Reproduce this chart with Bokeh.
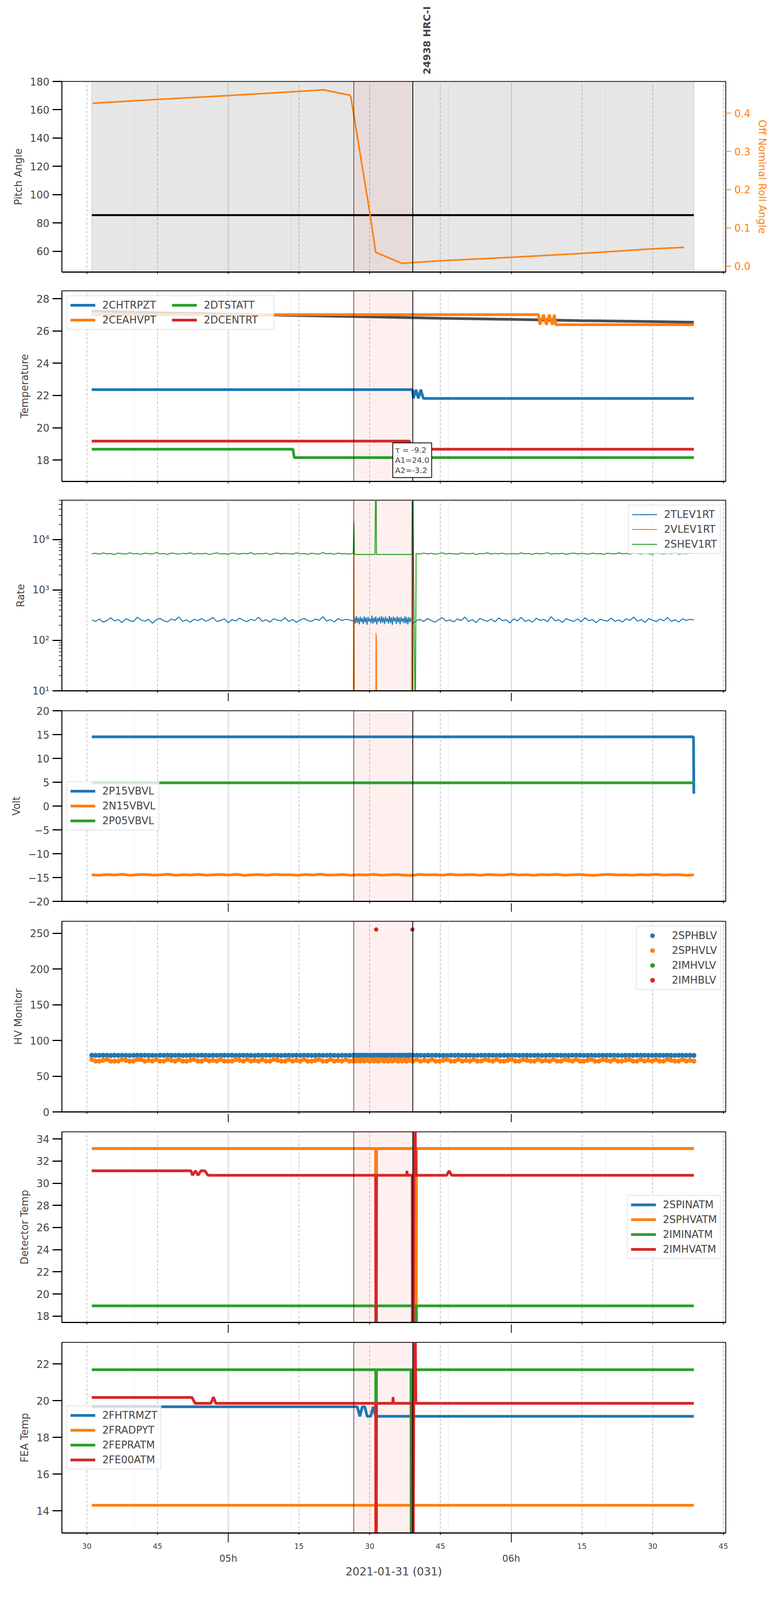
import math
import pandas as pd
from bokeh.plotting import figure
from bokeh.layouts import column
from bokeh.models import (Range1d, LinearAxis, FixedTicker, BoxAnnotation, Span,
                          Label, Legend, LegendItem, Grid)
from bokeh.embed import file_html
from bokeh.resources import INLINE

DAY = "2021-01-31 "
FONT = "DejaVu Sans"
BLUE, ORANGE, GREEN, RED = "#1f77b4", "#ff7f0e", "#2ca02c", "#d62728"
FRAME_W, FRAME_H = 1700, 488

# ---- time axis
X_START, X_END = "04:24:43", "06:45:30"
QUARTER_TICKS = ["04:30", "04:45", "05:15", "05:30", "05:45", "06:15", "06:30", "06:45"]
QUARTER_LABELS = ["30", "45", "15", "30", "45", "15", "30", "45"]
HOUR_TICKS = ["05:00", "06:00"]
HOUR_LABELS = ["05h", "06h"]
X_LABEL = "2021-01-31 (031)"

OBS_NAME = "24938 HRC-I"
OBS_START, OBS_END = "05:26:37", "05:39:08"
DATA_START, DATA_END = "04:31:03", "06:38:44"

# ---- panel 1: pitch / roll
PITCH_TICKS = [60, 80, 100, 120, 140, 160, 180]
PITCH_LABELS = ["60", "80", "100", "120", "140", "160", "180"]
ROLL_TICKS = [0.0, 0.1, 0.2, 0.3, 0.4]
ROLL_LABELS = ["0.0", "0.1", "0.2", "0.3", "0.4"]
PITCH_T = ["04:31:03", "06:38:44"]
PITCH = [85.5, 85.5]
ROLL_T = ["04:31:16", "04:45:00", "05:00:00", "05:15:00", "05:20:12", "05:25:47", "05:26:00",
          "05:30:00", "05:31:16", "05:36:50", "05:45:00", "06:00:00", "06:15:00", "06:30:00", "06:36:38"]
ROLL = [0.426, 0.436, 0.446, 0.457, 0.461, 0.447, 0.442, 0.141, 0.036, 0.007,
        0.014, 0.023, 0.033, 0.045, 0.049]

# ---- panel 2: temperature
TEMP_TICKS = [18, 20, 22, 24, 26, 28]
TEMP_LABELS = ["18", "20", "22", "24", "26", "28"]
FIT_T = ["04:31:03", "04:45:00", "05:00:00", "05:15:00", "05:30:00", "05:45:00", "06:00:00",
         "06:15:00", "06:30:00", "06:38:44"]
FIT = [27.23, 27.13, 27.05, 26.96, 26.88, 26.79, 26.72, 26.64, 26.58, 26.54]
FIT_TEXT = "τ = -9.2\nA1=24.0\nA2=-3.2"
FIT_X = "05:34:13"
CHTRPZT_T = ["04:31:03", "05:39:03", "05:39:16", "05:39:47", "05:40:19", "05:40:50", "05:41:22", "06:38:44"]
CHTRPZT = [22.36, 22.36, 21.82, 22.36, 21.82, 22.36, 21.82, 21.82]
CEAHVPT_T = ["04:31:03", "06:05:47", "06:06:06", "06:06:51", "06:07:28", "06:08:06", "06:08:44",
             "06:09:09", "06:09:28", "06:38:44"]
CEAHVPT = [27.01, 27.01, 26.39, 27.01, 26.39, 27.01, 26.39, 27.01, 26.39, 26.39]
DTSTATT_T = ["04:31:03", "05:13:42", "05:14:00", "06:38:44"]
DTSTATT = [18.67, 18.67, 18.15, 18.15]
DCENTRT_T = ["04:31:03", "05:38:25", "05:38:50", "06:38:44"]
DCENTRT = [19.17, 19.17, 18.67, 18.67]

# ---- panel 3: rates (three sampling segments)
SEG_A = ("04:31:03", "05:26:30")
SEG_B = ("05:26:45", "05:38:55")
SEG_C = ("05:39:50", "06:38:44")
RATE_TICKS = [10, 100, 1000, 10000]
RATE_LABELS = ["10¹", "10²", "10³", "10⁴"]
RATE_MINOR = [20, 30, 40, 50, 60, 70, 80, 90, 200, 300, 400, 500, 600, 700, 800, 900,
              2000, 3000, 4000, 5000, 6000, 7000, 8000, 9000, 20000, 30000, 40000, 50000, 60000]
TLEV_A = [252, 238, 265, 231, 247, 281, 243, 259, 226, 270, 248, 236, 288, 254, 241, 262, 219, 257,
          274, 245, 233, 266, 250, 291, 238, 256, 229, 263, 247, 272, 240, 255, 284, 236, 249, 268,
          224, 258, 243, 277, 251, 235, 262, 246, 289, 239, 257, 231, 269, 252, 244, 281, 237, 260,
          228, 254, 273, 246, 239, 265, 250, 296, 241, 258, 233, 270, 248, 262, 255, 243]
TLEV_B = [290, 215, 305, 222, 284, 208, 296, 231, 277, 212, 301, 226, 288, 204, 293, 238, 271, 219,
          309, 214, 283, 229, 298, 207, 279, 236, 292, 218, 303, 224, 286, 211, 297, 233, 274, 216,
          306, 221, 289, 203, 295, 239, 281, 213, 300, 227, 285, 209, 294, 234, 276, 220, 302, 217,
          287, 206, 291, 230, 280, 212]
TLEV_C = [244, 262, 237, 271, 250, 229, 258, 283, 241, 255, 232, 267, 248, 290, 236, 259, 226, 273,
          252, 240, 264, 233, 279, 247, 256, 221, 268, 243, 287, 238, 254, 230, 275, 249, 261, 235,
          296, 245, 257, 228, 270, 251, 239, 266, 234, 282, 246, 258, 224, 263, 250, 241, 276, 237,
          255, 232, 269, 248, 292, 240, 260, 227, 272, 253, 236, 265, 244, 284, 238, 257, 231, 268,
          249, 262, 255]
VLEV_T = ["04:31:03", "05:26:30", "05:26:38", "05:26:45", "05:31:15", "05:31:20", "05:31:25",
          "05:31:30", "05:38:50", "05:38:55", "05:39:00", "06:38:44"]
VLEV = [1, 1, 23000, 1, 1, 140, 110, 1, 1, 5000, 1, 1]
SHEV_A = [5210, 5350, 5120, 5420, 5180, 5290, 5050, 5380, 5240, 5150, 5460, 5200, 5310, 5090, 5370,
          5230, 5160, 5520, 5190, 5280, 5070, 5400, 5250, 5130, 5340, 5210, 5470, 5110, 5300, 5190,
          5360, 5040, 5270, 5420, 5180, 5230, 5100, 5390, 5260, 5150, 5330, 5220, 5480, 5120, 5290,
          5200, 5370, 5060, 5250, 5410, 5170, 5310, 5230, 5140, 5440, 5200, 5280, 5090, 5350, 5240,
          5160, 5500, 5190, 5300, 5110, 5380, 5220, 5270, 5150, 5330]
SHEV_B = [5060, 5090, 5030, 5080, 5050, 5100, 5040, 5070, 5020, 5090, 5060, 5030, 5080, 5050, 5110,
          5040, 5070, 5060, 5020, 5090, 5050, 5080, 5030, 5100, 5060, 5040, 5070, 5090, 5030, 5060,
          5080, 5050, 5100, 5040, 5070, 5020, 5090, 5060, 5030, 5080]
SHEV_C = [5280, 5150, 5390, 5200, 5330, 5090, 5260, 5440, 5170, 5310, 5220, 5120, 5400, 5250, 5180,
          5350, 5060, 5290, 5230, 5470, 5140, 5320, 5200, 5380, 5110, 5270, 5240, 5160, 5430, 5210,
          5300, 5080, 5360, 5190, 5250, 5490, 5130, 5280, 5220, 5340, 5100, 5260, 5410, 5170, 5300,
          5230, 5150, 5370, 5200, 5290, 5070, 5350, 5240, 5180, 5450, 5210, 5310, 5130, 5390, 5250,
          5160, 5330, 5220, 5100, 5420, 5270, 5190, 5340, 5230, 5460, 5150, 5300, 5210, 5370, 5260]
SHEV_SPIKE_T = ["05:26:38", "05:31:20", "05:39:03", "05:39:40"]
SHEV_SPIKE = [20300, 1000000, 1000000, 1]

# ---- panel 4: voltages
VOLT_TICKS = [-20, -15, -10, -5, 0, 5, 10, 15, 20]
VOLT_LABELS = ["−20", "−15", "−10", "−5", "0", "5", "10", "15", "20"]
P15_T = ["04:31:03", "06:38:40", "06:38:44"]
P15 = [14.52, 14.52, 2.6]
P05_T = ["04:31:03", "06:38:44"]
P05 = [4.88, 4.88]
N15 = [-14.42, -14.50, -14.38, -14.47, -14.33, -14.52, -14.41, -14.36, -14.49, -14.44, -14.31, -14.53,
       -14.40, -14.46, -14.35, -14.51, -14.43, -14.37, -14.48, -14.32, -14.55, -14.42, -14.39, -14.50,
       -14.34, -14.45, -14.41, -14.53, -14.36, -14.47, -14.30, -14.49, -14.44, -14.38, -14.52, -14.40,
       -14.46, -14.33, -14.51, -14.42, -14.37, -14.48, -14.55, -14.35, -14.45, -14.41, -14.50, -14.32,
       -14.47, -14.43, -14.39, -14.53, -14.36, -14.44, -14.49, -14.31, -14.46, -14.40, -14.52, -14.38,
       -14.45, -14.34, -14.50, -14.42, -14.37, -14.48, -14.54, -14.41, -14.35, -14.47, -14.43, -14.51,
       -14.39, -14.46, -14.33, -14.49, -14.42, -14.38, -14.52, -14.44]

# ---- panel 5: HV monitor (scatter)
HV_A = ("04:31:03", "05:26:30")
HV_B = ("05:26:38", "05:39:03")
HV_C = ("05:39:10", "06:38:44")
HV_TICKS = [0, 50, 100, 150, 200, 250]
HV_LABELS = ["0", "50", "100", "150", "200", "250"]
SPHBLV_A = [79.2, 79.1, 79.1, 79.3, 79.1, 79.0, 79.2, 79.1, 79.2, 79.1, 79.0, 79.1, 79.3, 79.1, 79.2,
            79.1, 79.1, 79.0, 79.2, 79.1, 79.3, 79.1, 79.1, 79.2, 79.0, 79.1, 79.2, 79.1, 79.1, 79.3,
            79.1, 79.0, 79.2, 79.1, 79.1, 79.2, 79.1, 79.3, 79.0, 79.1, 79.2, 79.1, 79.1, 79.0, 79.2,
            79.1, 79.3, 79.1, 79.2, 79.1, 79.0, 79.1, 79.2, 79.1, 79.3, 79.1, 79.1, 79.2, 79.0, 79.1,
            79.2, 79.1, 79.1, 79.3, 79.1, 79.0, 79.2, 79.1, 79.1, 79.2]
SPHBLV_B = [79.1, 79.3, 79.0, 79.2, 79.1, 79.1, 79.3, 79.0, 79.2, 79.1, 79.2, 79.0, 79.3, 79.1, 79.1,
            79.2, 79.0, 79.3, 79.1, 79.2, 79.1, 79.0, 79.3, 79.1, 79.2, 79.1, 79.0, 79.2, 79.3, 79.1]
SPHBLV_C = [79.1, 79.2, 79.1, 79.0, 79.3, 79.1, 79.2, 79.1, 79.1, 79.0, 79.2, 79.1, 79.3, 79.1, 79.1,
            79.2, 79.0, 79.1, 79.2, 79.1, 79.3, 79.1, 79.0, 79.1, 79.2, 79.1, 79.1, 79.3, 79.0, 79.1,
            79.2, 79.1, 79.1, 79.2, 79.0, 79.1, 79.3, 79.1, 79.2, 79.1, 79.1, 79.0, 79.2, 79.1, 79.3,
            79.1, 79.1, 79.2, 79.0, 79.1, 79.2, 79.1, 79.3, 79.1, 79.1, 79.0, 79.2, 79.1, 79.1, 79.3,
            79.1, 79.2, 79.0, 79.1, 79.2, 79.1, 79.1, 79.3, 79.1, 79.0, 79.2, 79.1, 79.1, 79.2, 79.1]
SPHVLV_A = [73.4, 71.1, 71.0, 72.3, 73.5, 71.1, 71.0, 71.2, 73.4, 72.1, 71.0, 71.1, 73.5, 73.3, 71.0,
            72.2, 71.1, 73.4, 71.0, 71.1, 73.5, 72.2, 71.0, 73.4, 71.1, 71.0, 72.3, 73.5, 71.1, 71.0,
            73.4, 71.2, 72.2, 71.0, 73.5, 71.1, 71.0, 71.1, 73.3, 72.2, 71.0, 73.5, 71.1, 72.1, 71.0,
            73.4, 71.1, 71.0, 73.5, 72.3, 71.0, 71.1, 73.4, 71.0, 72.2, 71.1, 73.5, 71.0, 71.1, 72.2,
            73.4, 71.0, 71.1, 73.5, 71.0, 72.1, 71.1, 73.4, 71.0, 71.2]
SPHVLV_B = [73.3, 71.2, 72.4, 71.1, 73.4, 71.3, 72.2, 73.3, 71.1, 72.5, 71.2, 73.4, 71.1, 72.3, 73.2,
            71.2, 72.4, 71.1, 73.3, 71.3, 72.2, 73.4, 71.1, 72.4, 71.2, 73.3, 71.1, 72.3, 73.4, 71.2]
SPHVLV_C = [71.1, 73.4, 71.0, 72.2, 71.1, 73.5, 71.0, 71.1, 72.3, 73.4, 71.0, 71.1, 73.5, 71.0, 72.2,
            71.1, 73.3, 71.0, 71.2, 73.5, 72.1, 71.0, 73.4, 71.1, 71.0, 72.2, 73.5, 71.1, 71.0, 73.4,
            72.3, 71.1, 71.0, 73.5, 71.1, 72.2, 71.0, 73.4, 71.1, 71.0, 73.5, 72.2, 71.1, 73.4, 71.0,
            71.1, 72.3, 73.5, 71.0, 71.1, 73.4, 72.1, 71.0, 73.5, 71.1, 71.0, 72.2, 73.4, 71.1, 71.0,
            73.5, 71.1, 72.2, 71.0, 73.4, 71.1, 71.0, 73.5, 72.3, 71.1, 71.0, 73.4, 71.1, 72.2, 71.0]
IMHVLV_T = ["05:31:22", "05:39:03"]
IMHVLV = [255.2, 255.2]
IMHBLV_T = ["05:31:22", "05:39:03"]
IMHBLV = [255.2, 255.2]

# ---- panel 6: detector temperatures
DET_TICKS = [18, 20, 22, 24, 26, 28, 30, 32, 34]
DET_LABELS = ["18", "20", "22", "24", "26", "28", "30", "32", "34"]
SPINATM_T = ["04:31:03", "05:31:16", "05:31:20", "05:31:26", "05:39:40", "05:39:47", "05:39:54", "06:38:44"]
SPINATM = [33.13, 33.13, 0, 33.13, 33.13, 0, 33.13, 33.13]
SPHVATM_T = ["04:31:03", "05:31:16", "05:31:20", "05:31:26", "05:39:40", "05:39:47", "05:39:54", "06:38:44"]
SPHVATM = [33.13, 33.13, 0, 33.13, 33.13, 0, 33.13, 33.13]
IMINATM_T = ["04:31:03", "05:31:16", "05:31:20", "05:31:26", "05:39:40", "05:39:47", "05:39:54", "06:38:44"]
IMINATM = [18.93, 18.93, 0, 18.93, 18.93, 0, 18.93, 18.93]
IMHVATM_T = ["04:31:03", "04:52:06", "04:52:25", "04:53:03", "04:53:35", "04:54:13", "04:55:03",
             "04:55:41", "05:31:16", "05:31:20", "05:31:26", "05:37:50", "05:37:54", "05:37:58",
             "05:39:00", "05:39:05", "05:39:28", "05:39:47", "05:46:19", "05:46:50", "05:47:22", "06:38:44"]
IMHVATM = [31.12, 31.12, 30.72, 31.12, 30.72, 31.12, 31.12, 30.72, 30.72, 0, 30.72, 30.72, 31.12,
           30.72, 30.72, 0, 40, 30.72, 30.72, 31.12, 30.72, 30.72]

# ---- panel 7: FEA temperatures
FEA_TICKS = [14, 16, 18, 20, 22]
FEA_LABELS = ["14", "16", "18", "20", "22"]
FHTRMZT_T = ["04:31:03", "05:27:22", "05:27:54", "05:28:25", "05:28:57", "05:29:28", "05:30:12",
             "05:30:44", "05:31:16", "06:38:44"]
FHTRMZT = [19.67, 19.67, 19.15, 19.67, 19.67, 19.15, 19.15, 19.67, 19.15, 19.15]
FRADPYT_T = ["04:31:03", "05:31:16", "05:31:20", "05:31:26", "05:38:56", "05:39:00", "05:39:05", "06:38:44"]
FRADPYT = [14.3, 14.3, 0, 14.3, 14.3, 0, 14.3, 14.3]
FEPRATM_T = ["04:31:03", "05:31:16", "05:31:20", "05:31:26", "05:38:45", "05:38:50", "05:38:55", "06:38:44"]
FEPRATM = [21.69, 21.69, 0, 21.69, 21.69, 0, 21.69, 21.69]
FE00ATM_T = ["04:31:03", "04:52:19", "04:52:57", "04:56:19", "04:56:51", "04:57:22", "05:31:16",
             "05:31:20", "05:31:26", "05:34:52", "05:34:57", "05:35:02", "05:39:00", "05:39:05",
             "05:39:28", "05:39:47", "06:38:44"]
FE00ATM = [20.18, 20.18, 19.86, 19.86, 20.2, 19.86, 19.86, 0, 19.86, 19.86, 20.2, 19.86, 19.86,
           0, 30, 19.86, 19.86]


def ts(times):
    return pd.to_datetime([DAY + s for s in times])


def ms(s):
    return int(pd.Timestamp(DAY + s).value // 10**6)


def sampled(seg, values):
    # evenly spaced telemetry samples inside a time segment
    return pd.date_range(DAY + seg[0], DAY + seg[1], periods=len(values))


XR = Range1d(ms(X_START), ms(X_END))
Q_MS = [ms(s) for s in QUARTER_TICKS]
H_MS = [ms(s) for s in HOUR_TICKS]


def style_text_axis(ax, size="26px"):
    ax.axis_label_text_font = FONT
    ax.axis_label_text_font_size = size
    ax.axis_label_text_font_style = "normal"
    ax.major_label_text_font = FONT
    ax.major_label_text_font_size = size


def tick_only_axis(ticks, length, line=True):
    # an x axis that draws only tick marks, without any labels
    ax = LinearAxis(ticker=FixedTicker(ticks=[], minor_ticks=ticks))
    ax.major_tick_out = 0
    ax.major_tick_in = 0
    ax.major_label_standoff = 0
    ax.minor_tick_out, ax.minor_tick_in = length, 0
    ax.minor_tick_line_width = 2
    ax.minor_tick_line_color = "black"
    ax.axis_line_width = 3
    if not line:
        ax.axis_line_color = None
    return ax


def make_panel(ylabel, yr, yticks, ylabels, yminor=(), log=False, top=24, bottom=24,
               hour_tick=22, last=False):
    p = figure(x_range=XR, y_range=Range1d(*yr), x_axis_location=None,
               y_axis_type="log" if log else "linear",
               frame_width=FRAME_W, frame_height=FRAME_H,
               min_border_left=158, min_border_right=120,
               min_border_top=top, min_border_bottom=bottom,
               output_backend="svg", toolbar_location=None)
    p.outline_line_color = "black"
    p.outline_line_width = 2
    p.ygrid.visible = False
    p.add_layout(Grid(dimension=0, ticker=FixedTicker(ticks=Q_MS), grid_line_color="#b0b0b0",
                      grid_line_dash="7 4", grid_line_width=1.5))
    p.add_layout(Grid(dimension=0, ticker=FixedTicker(ticks=H_MS),
                      grid_line_color="#b0b0b0", grid_line_width=1.2))

    ya = p.yaxis[0]
    ya.ticker = FixedTicker(ticks=yticks, minor_ticks=list(yminor))
    ya.major_label_overrides = dict(zip(yticks, ylabels))
    ya.axis_label = ylabel
    style_text_axis(ya)
    ya.axis_label_standoff = 12
    ya.major_label_standoff = 8
    ya.major_tick_out, ya.major_tick_in = 24, 0
    ya.major_tick_line_width = 3
    ya.minor_tick_out, ya.minor_tick_in = 8, 0
    ya.minor_tick_line_width = 1.5
    ya.axis_line_width = 2

    if not last:
        if hour_tick > 6:
            p.add_layout(tick_only_axis(Q_MS, 5), "below")
            p.add_layout(tick_only_axis(H_MS, hour_tick, line=False), "below")
        else:
            p.add_layout(tick_only_axis(Q_MS + H_MS, 5), "below")

    p.add_layout(BoxAnnotation(left=ms(OBS_START), right=ms(OBS_END), fill_color="red",
                               fill_alpha=0.06, line_color=None, level="underlay"))
    p.add_layout(Span(location=ms(OBS_START), dimension="height", line_color="black", line_width=1.2))
    p.add_layout(Span(location=ms(OBS_END), dimension="height", line_color="black", line_width=2))
    return p


def add_legend(p, names, rends, location, nrows="auto", label_width=20):
    leg = Legend(items=[LegendItem(label=n, renderers=[r]) for n, r in zip(names, rends)],
                 location=location, nrows=nrows)
    leg.label_text_font = FONT
    leg.label_text_font_size = "26px"
    leg.label_height = 28
    leg.label_width = label_width
    leg.glyph_width = 64
    leg.glyph_height = 28
    leg.label_standoff = 18
    leg.spacing = 8
    leg.padding = 8
    leg.margin = 12
    leg.border_line_color = "#cccccc"
    leg.border_line_width = 2.5
    leg.background_fill_alpha = 0.8
    p.add_layout(leg)


# ---- panel 1
p1 = make_panel("Pitch Angle", (45.3, 180), PITCH_TICKS, PITCH_LABELS, top=208, hour_tick=5)
p1.add_layout(BoxAnnotation(left=ms(DATA_START), right=ms(DATA_END), fill_color="gray",
                            fill_alpha=0.2, line_color="gray", line_alpha=0.25, line_width=2,
                            level="underlay"))
p1.extra_y_ranges = {"roll": Range1d(-0.0157, 0.483)}
rax = LinearAxis(y_range_name="roll", ticker=FixedTicker(ticks=ROLL_TICKS),
                 major_label_overrides=dict(zip(ROLL_TICKS, ROLL_LABELS)),
                 axis_label="Off Nominal Roll Angle")
style_text_axis(rax)
rax.axis_label_text_color = ORANGE
rax.axis_label_standoff = 12
rax.major_label_text_color = ORANGE
rax.major_label_standoff = 8
rax.major_tick_line_color = ORANGE
rax.major_tick_out, rax.major_tick_in = 14, 0
rax.major_tick_line_width = 2
rax.minor_tick_line_color = None
p1.add_layout(rax, "right")

# observation name, written rotated just right of the observation end line
title_x = ms(OBS_END) + 180000
tax = LinearAxis(ticker=FixedTicker(ticks=[title_x], minor_ticks=[]),
                 major_label_overrides={title_x: OBS_NAME},
                 major_label_orientation=math.pi / 2)
tax.axis_line_color = None
tax.major_tick_line_color = None
tax.minor_tick_line_color = None
tax.major_label_standoff = 12
tax.major_label_text_font = FONT
tax.major_label_text_font_size = "25px"
tax.major_label_text_font_style = "bold"
p1.add_layout(tax, "above")

p1.line(ts(PITCH_T), PITCH, color="black", line_width=5)
p1.line(ts(ROLL_T), ROLL, color=ORANGE, line_width=4, y_range_name="roll")

# ---- panel 2
p2 = make_panel("Temperature", (16.67, 28.49), TEMP_TICKS, TEMP_LABELS, hour_tick=5)
p2.line(ts(FIT_T), FIT, color="#4d4d4d", line_width=7)
r2 = [p2.line(ts(CHTRPZT_T), CHTRPZT, color=BLUE, line_width=7),
      p2.line(ts(CEAHVPT_T), CEAHVPT, color=ORANGE, line_width=7),
      p2.line(ts(DTSTATT_T), DTSTATT, color=GREEN, line_width=7),
      p2.line(ts(DCENTRT_T), DCENTRT, color=RED, line_width=7)]
add_legend(p2, ["2CHTRPZT", "2CEAHVPT", "2DTSTATT", "2DCENTRT"], r2, "top_left", nrows=2,
           label_width=170)
# fit parameters, boxed and resting on the bottom of the frame
p2.add_layout(Label(x=ms(FIT_X), y=16.67, text=FIT_TEXT, x_offset=8, y_offset=10,
                    text_align="left", text_baseline="bottom", text_font=FONT,
                    text_font_size="20px", text_line_height=1.1, padding=6,
                    background_fill_color="white", border_line_color="black",
                    border_line_width=2))

# ---- panel 3
p3 = make_panel("Rate", (10, 60300), RATE_TICKS, RATE_LABELS, yminor=RATE_MINOR, log=True)
tlev_t = sampled(SEG_A, TLEV_A).append(sampled(SEG_B, TLEV_B)).append(sampled(SEG_C, TLEV_C))
shev = pd.concat([pd.Series(SHEV_A, index=sampled(SEG_A, SHEV_A)),
                  pd.Series(SHEV_B, index=sampled(SEG_B, SHEV_B)),
                  pd.Series(SHEV_C, index=sampled(SEG_C, SHEV_C)),
                  pd.Series(SHEV_SPIKE, index=ts(SHEV_SPIKE_T))]).sort_index()
r3 = [p3.line(tlev_t, TLEV_A + TLEV_B + TLEV_C, color=BLUE, line_width=2.5),
      p3.line(ts(VLEV_T), VLEV, color=ORANGE, line_width=2.5),
      p3.line(shev.index, shev.values, color=GREEN, line_width=2.5)]
add_legend(p3, ["2TLEV1RT", "2VLEV1RT", "2SHEV1RT"], r3, "top_right")

# ---- panel 4
p4 = make_panel("Volt", (-20, 20), VOLT_TICKS, VOLT_LABELS)
r4 = [p4.line(ts(P15_T), P15, color=BLUE, line_width=7),
      p4.line(pd.date_range(DAY + DATA_START, DAY + DATA_END, periods=len(N15)), N15,
              color=ORANGE, line_width=7),
      p4.line(ts(P05_T), P05, color=GREEN, line_width=7)]
add_legend(p4, ["2P15VBVL", "2N15VBVL", "2P05VBVL"], r4, "center_left")

# ---- panel 5
p5 = make_panel("HV Monitor", (0, 266.7), HV_TICKS, HV_LABELS)
hv_t = sampled(HV_A, SPHBLV_A).append(sampled(HV_B, SPHBLV_B)).append(sampled(HV_C, SPHBLV_C))
r5 = [p5.scatter(hv_t, SPHBLV_A + SPHBLV_B + SPHBLV_C, size=12, color=BLUE),
      p5.scatter(hv_t, SPHVLV_A + SPHVLV_B + SPHVLV_C, size=12, color=ORANGE),
      p5.scatter(ts(IMHVLV_T), IMHVLV, size=10, color=GREEN),
      p5.scatter(ts(IMHBLV_T), IMHBLV, size=10, color=RED)]
add_legend(p5, ["2SPHBLV", "2SPHVLV", "2IMHVLV", "2IMHBLV"], r5, "top_right")

# ---- panel 6
p6 = make_panel("Detector Temp", (17.43, 34.64), DET_TICKS, DET_LABELS)
r6 = [p6.line(ts(SPINATM_T), SPINATM, color=BLUE, line_width=7),
      p6.line(ts(SPHVATM_T), SPHVATM, color=ORANGE, line_width=7),
      p6.line(ts(IMINATM_T), IMINATM, color=GREEN, line_width=7),
      p6.line(ts(IMHVATM_T), IMHVATM, color=RED, line_width=7)]
add_legend(p6, ["2SPINATM", "2SPHVATM", "2IMINATM", "2IMHVATM"], r6, "center_right")

# ---- panel 7 (carries the visible time axis)
p7 = make_panel("FEA Temp", (12.79, 23.18), FEA_TICKS, FEA_LABELS, bottom=40, last=True)
r7 = [p7.line(ts(FHTRMZT_T), FHTRMZT, color=BLUE, line_width=7),
      p7.line(ts(FRADPYT_T), FRADPYT, color=ORANGE, line_width=7),
      p7.line(ts(FEPRATM_T), FEPRATM, color=GREEN, line_width=7),
      p7.line(ts(FE00ATM_T), FE00ATM, color=RED, line_width=7)]
add_legend(p7, ["2FHTRMZT", "2FRADPYT", "2FEPRATM", "2FE00ATM"], r7, "center_left")

qax = LinearAxis(ticker=FixedTicker(ticks=Q_MS, minor_ticks=H_MS),
                 major_label_overrides=dict(zip(Q_MS, QUARTER_LABELS)))
qax.major_label_text_font = FONT
qax.major_label_text_font_size = "19px"
qax.major_label_standoff = 2
qax.major_tick_out, qax.major_tick_in = 5, 0
qax.minor_tick_out, qax.minor_tick_in = 24, 0
qax.major_tick_line_width = 2
qax.minor_tick_line_width = 2
qax.minor_tick_line_color = "black"
qax.axis_line_width = 3
p7.add_layout(qax, "below")

hax = LinearAxis(ticker=FixedTicker(ticks=H_MS, minor_ticks=[]),
                 major_label_overrides=dict(zip(H_MS, HOUR_LABELS)),
                 axis_label=X_LABEL)
style_text_axis(hax, "24px")
hax.axis_label_text_font_size = "28px"
hax.axis_line_color = None
hax.major_tick_line_color = None
hax.minor_tick_line_color = None
hax.major_label_standoff = 2
hax.axis_label_standoff = 0
p7.add_layout(hax, "below")

layout = column(p1, p2, p3, p4, p5, p6, p7)
open("out.html", "w").write(file_html(layout, INLINE))
